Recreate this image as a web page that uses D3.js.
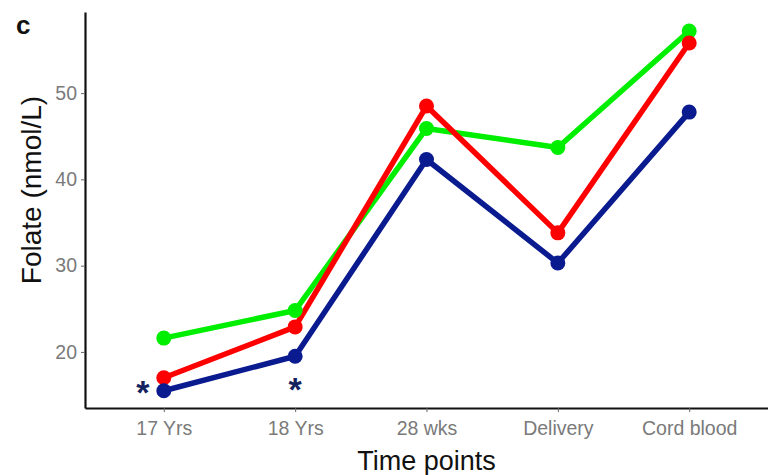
<!DOCTYPE html>
<html>
<head>
<meta charset="utf-8">
<script src="https://cdn.jsdelivr.net/npm/d3@7"></script>
<style>
  body { margin: 0; background: #fff; }
  text { font-family: "Liberation Sans", Arial, sans-serif; }
</style>
</head>
<body>
<svg id="chart" width="768" height="475"></svg>
<script>
// time points on the x axis
const timePoints = ["17 Yrs", "18 Yrs", "28 wks", "Delivery", "Cord blood"];

// folate values per group (nmol/L)
const greenSeries = [21.6, 24.8, 45.9, 43.7, 57.2];
const redSeries   = [17.0, 22.9, 48.5, 33.8, 55.8];
const blueSeries  = [15.5, 19.5, 42.3, 30.3, 47.8];

const yTicks = [20, 30, 40, 50];

// significance stars (time point, value at star centre)
const stars = [["17 Yrs", 15.7], ["18 Yrs", 16.0]];

const series = [
  { name: "green", color: "#00ee00", values: greenSeries },
  { name: "red",   color: "#ff0000", values: redSeries },
  { name: "blue",  color: "#0a1a8f", values: blueSeries }
];

const svg = d3.select("#chart");
const margin = { left: 85, right: 0, top: 12, bottom: 67 };
const W = 768, H = 475;

const x = d3.scalePoint()
  .domain(timePoints)
  .range([margin.left, W - margin.right])
  .padding(0.6);

const y = d3.scaleLinear()
  .domain([13.5, 59.4])
  .range([H - margin.bottom, margin.top]);

// axes
const xAxis = svg.append("g")
  .attr("transform", `translate(0,${H - margin.bottom})`)
  .call(d3.axisBottom(x).tickSize(4).tickPadding(9).tickSizeOuter(0));
const yAxis = svg.append("g")
  .attr("transform", `translate(${margin.left},0)`)
  .call(d3.axisLeft(y).tickValues(yTicks).tickSize(4).tickPadding(4).tickSizeOuter(0));

[xAxis, yAxis].forEach(a => {
  a.select(".domain").attr("stroke", "#111").attr("stroke-width", 2.2);
  a.selectAll(".tick line").attr("stroke", "#666").attr("stroke-width", 1);
  a.selectAll(".tick text")
    .attr("fill", "#7a7a7a")
    .style("font-size", "19.5px");
});

// lines
const line = d3.line()
  .x((d, i) => x(timePoints[i]))
  .y(d => y(d));

series.forEach(s => {
  svg.append("path")
    .datum(s.values)
    .attr("fill", "none")
    .attr("stroke", s.color)
    .attr("stroke-width", 5.5)
    .attr("stroke-linejoin", "round")
    .attr("d", line);
});

series.forEach(s => {
  svg.append("g")
    .selectAll("circle")
    .data(s.values)
    .enter()
    .append("circle")
    .attr("cx", (d, i) => x(timePoints[i]))
    .attr("cy", d => y(d))
    .attr("r", 7.5)
    .attr("fill", s.color);
});

// stars
const starSize = 34;
svg.selectAll("text.star")
  .data(stars)
  .enter()
  .append("text")
  .attr("class", "star")
  .attr("x", (d, i) => x(d[0]) + (i === 0 ? -21 : 0))
  .attr("y", d => y(d[1]) + starSize * 0.44)
  .attr("text-anchor", "middle")
  .attr("fill", "#13235f")
  .style("font-size", starSize + "px")
  .style("font-weight", "bold")
  .text("*");

// axis titles
svg.append("text")
  .attr("x", x("28 wks"))
  .attr("y", 470)
  .attr("text-anchor", "middle")
  .attr("fill", "#111")
  .style("font-size", "27px")
  .text("Time points");

svg.append("text")
  .attr("transform", `translate(41,190) rotate(-90)`)
  .attr("text-anchor", "middle")
  .attr("fill", "#111")
  .style("font-size", "28px")
  .text("Folate (nmol/L)");

// panel letter
svg.append("text")
  .attr("x", 16)
  .attr("y", 34)
  .attr("fill", "#111")
  .style("font-size", "26px")
  .style("font-weight", "bold")
  .text("c");
</script>
</body>
</html>
